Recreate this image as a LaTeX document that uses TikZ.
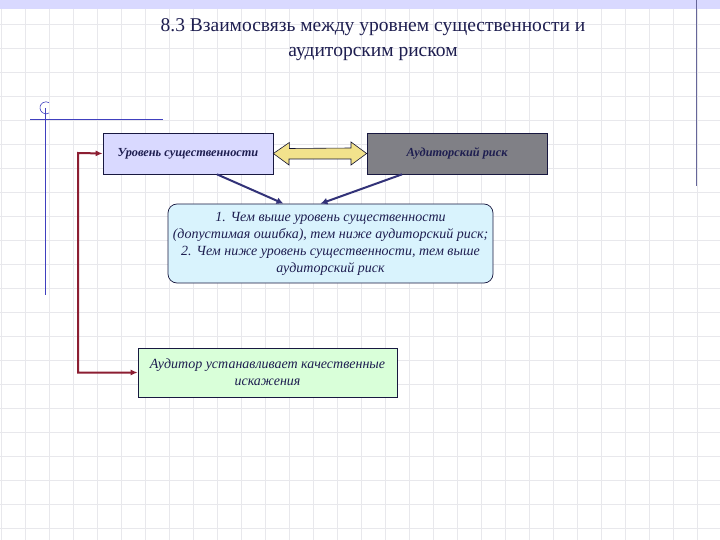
\documentclass[tikz,border=0pt]{standalone}
\usepackage{fontspec}
\setmainfont{Liberation Serif}
\usetikzlibrary{arrows.meta}
\definecolor{gridc}{RGB}{232,232,236}
\definecolor{navy}{RGB}{30,30,80}
\definecolor{arr}{RGB}{50,50,120}
\definecolor{redc}{RGB}{140,30,50}
\definecolor{greyb}{RGB}{128,128,134}
\definecolor{yel}{RGB}{242,226,140}
\tikzset{
 box/.style={draw=navy!80!black, line width=0.7pt, minimum height=41pt, text=navy, align=center, inner sep=2pt},
 conn/.style={draw=arr, line width=2pt, -{Latex[length=7pt,width=7pt]}},
 redconn/.style={draw=redc, line width=2pt, {Latex[length=7pt,width=6pt]}-{Latex[length=7pt,width=6pt]}}
}
\begin{document}
\begin{tikzpicture}[x=1pt,y=-1pt]
\useasboundingbox (0,0) rectangle (720,540);
\fill[white] (0,0) rectangle (720,540);
\foreach \x in {1,25,...,720} \draw[gridc,line width=0.8pt] (\x,0) -- (\x,540);
\foreach \y in {0,24,...,540} \draw[gridc,line width=0.8pt] (0,\y) -- (720,\y);
\fill[blue!15!white] (0,0) rectangle (720,9);
\draw[gray!80!blue,line width=0.8pt] (696,0) -- (696,186);
\draw[blue!50!gray,line width=0.6pt] (45,108) -- (45,295);
\draw[blue!50!gray,line width=0.6pt] (30,119) -- (163,119);
\draw[blue!50!gray,line width=0.6pt] (49,113) arc (60:300:6);
\node[text=navy,font=\fontsize{19.5}{25}\selectfont,align=center] (title) at (373,40) {8.3 Взаимосвязь между уровнем существенности и\\аудиторским риском};
\node[box,fill=blue!15!white,minimum width=170pt,font=\fontsize{12.3}{14}\selectfont\bfseries\itshape] (lev) at (188,153.5) {Уровень существенности};
\node[box,fill=greyb,minimum width=180pt,font=\fontsize{12.3}{14}\selectfont\bfseries\itshape] (risk) at (457,153.5) {Аудиторский риск};
\node[box,fill=cyan!15!white,rounded corners=9pt,minimum width=325pt,minimum height=79pt,font=\fontsize{14}{17}\selectfont\itshape] (rel) at (330.5,243.5) {1. Чем выше уровень существенности\\(допустимая ошибка), тем ниже аудиторский риск;\\2. Чем ниже уровень существенности, тем выше\\аудиторский риск};
\node[box,fill=green!15!white,minimum width=259pt,minimum height=49pt,font=\fontsize{14}{17}\selectfont\itshape] (aud) at (267.5,372.5) {Аудитор устанавливает качественные\\искажения};
\draw[navy!60!black,fill=yel,line width=0.6pt] (lev.east) -- ++(16,-11) -- ++(0,6) -- (351,148) -- ++(0,-6) -- (risk.west) -- (351,165) -- ++(0,-6) -- (289,159) -- ++(0,6) -- cycle;
\draw[conn] ([xshift=29pt]lev.south) -- ([xshift=-47pt]rel.north);
\draw[conn] ([xshift=-55pt]risk.south) -- ([xshift=-10pt]rel.north);
\coordinate (c1) at (78,372.5);
\coordinate (c2) at (78,153);
\draw[redconn] (aud.west) -- (c1) -- (c2) -- (lev.west);
\end{tikzpicture}
\end{document}
